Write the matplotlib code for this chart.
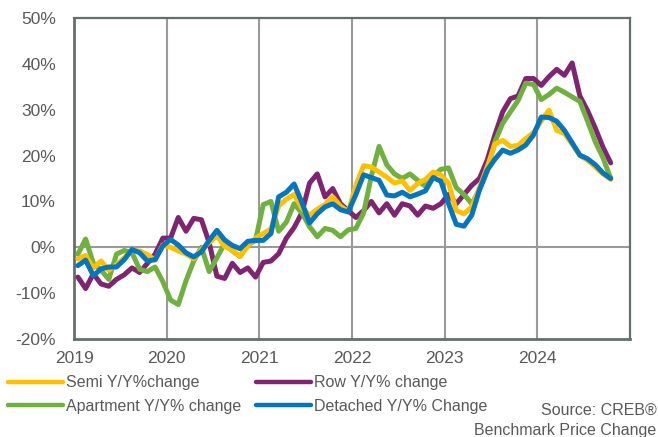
import numpy as np
import matplotlib.pyplot as plt

plt.rcParams['font.family'] = ['Liberation Sans', 'DejaVu Sans']

# monthly Y/Y % change, Jan 2019 .. Oct 2024
semi = [-2.5, -1.8, -4.5, -3.0, -5.0, -3.8, -2.3, -0.7, -0.8, -1.6, -2.8, 0.5,
        0.0, -0.8, -1.5, -2.5, -0.5, 1.0, 2.5, 0.2, -0.7, -2.0, 0.3, 2.0,
        3.0, 4.0, 9.0, 10.5, 11.5, 8.5, 7.0, 8.3, 9.3, 11.0, 9.0, 7.8,
        13.5, 17.8, 17.5, 16.4, 15.3, 14.0, 14.5, 12.4, 13.9, 14.8, 16.4, 15.8,
        14.0, 8.0, 7.3, 8.8, 13.0, 17.5, 22.5, 23.3, 22.0, 22.2, 23.7, 25.0,
        27.5, 29.9, 25.5, 24.8, 22.5, 20.0, 19.0, 17.5, 16.0, 14.8]

row = [-6.5, -9.0, -5.8, -8.0, -8.5, -7.0, -6.0, -4.5, -5.5, -3.5, -1.5, 2.0,
       2.0, 6.5, 3.5, 6.3, 6.0, 1.0, -6.3, -6.8, -3.5, -5.5, -4.5, -6.5,
       -3.3, -3.0, -1.4, 2.0, 4.3, 7.5, 14.0, 16.0, 11.0, 12.8, 9.5, 8.0,
       6.5, 8.0, 10.0, 7.5, 9.5, 7.0, 9.5, 9.0, 7.0, 9.0, 8.5, 9.5,
       11.5, 9.5, 11.5, 13.5, 15.0, 19.0, 24.5, 29.5, 32.4, 33.0, 36.8, 36.8,
       35.3, 37.2, 38.8, 37.5, 40.2, 33.0, 29.8, 26.0, 21.8, 18.4]

apartment = [-1.5, 1.8, -3.5, -5.0, -7.0, -1.5, -0.7, -1.2, -4.8, -5.3, -4.3, -7.5,
             -11.5, -12.5, -7.3, -3.0, 0.0, -5.3, -2.3, 0.8, -0.8, -2.0, 0.5, 1.5,
             9.3, 10.0, 3.5, 5.5, 9.5, 7.5, 4.5, 2.3, 4.1, 3.7, 2.3, 3.8,
             4.1, 7.5, 15.5, 22.0, 18.0, 16.0, 15.0, 16.0, 14.6, 13.3, 15.5, 17.0,
             17.3, 13.0, 11.5, 9.5, 12.5, 16.5, 23.0, 27.0, 29.5, 32.0, 35.8, 35.5,
             32.2, 33.3, 34.7, 33.8, 32.8, 31.8, 27.5, 23.0, 19.5, 15.0]

detached = [-4.0, -2.8, -6.2, -4.7, -4.3, -4.3, -2.7, -0.5, -1.2, -3.0, -2.7, 0.3,
            1.7, 0.5, -1.2, -2.1, -1.0, 1.5, 3.7, 1.6, 0.4, -0.3, 1.3, 1.5,
            1.5, 3.0, 11.0, 12.0, 13.8, 9.8, 5.3, 7.3, 8.8, 9.5, 8.2, 7.7,
            11.5, 15.8, 15.2, 14.6, 11.4, 11.2, 12.0, 11.0, 11.6, 12.3, 15.2, 14.4,
            9.5, 5.0, 4.6, 7.0, 12.5, 16.8, 19.2, 21.2, 20.5, 21.2, 22.3, 24.5,
            28.4, 28.3, 27.5, 25.5, 22.8, 20.1, 19.3, 18.0, 16.2, 15.0]

years = [2019, 2020, 2021, 2022, 2023, 2024]
y_ticks = [-20, -10, 0, 10, 20, 30, 40, 50]

series = {
    "Semi Y/Y%change": (semi, "#FFC000"),
    "Row Y/Y% change": (row, "#7E2470"),
    "Apartment Y/Y% change": (apartment, "#70B03F"),
    "Detached Y/Y% Change": (detached, "#0575BE"),
}

# points sit in the middle of each month
x = 2019 + (np.arange(len(semi)) + 0.5) / 12

fig = plt.figure(figsize=(6.58, 4.37), dpi=100)
ax = fig.add_axes([0.1125, 0.2243, 0.845, 0.7345])

# drawing order: purple first, then green, yellow, blue on top
draw_order = ["Row Y/Y% change", "Apartment Y/Y% change",
              "Semi Y/Y%change", "Detached Y/Y% Change"]
lines = {}
for z, name in enumerate(draw_order):
    vals, col = series[name]
    lines[name], = ax.plot(x, vals, color=col, lw=3.6, solid_joinstyle='round',
                           solid_capstyle='round', zorder=3 + z)

ax.set_xlim(2019, 2025)
ax.set_ylim(-20, 50)

for yr in years[1:]:
    ax.axvline(yr, color='#9a9a9a', lw=1.5, zorder=1)
ax.axhline(0, color='#9a9a9a', lw=1.5, zorder=1)

ax.set_yticks(y_ticks)
ax.set_yticklabels([f"{v}%" for v in y_ticks])
ax.set_xticks(years)
ax.set_xticklabels([str(v) for v in years])
ax.tick_params(length=0, labelsize=12.5, labelcolor='#595959')
ax.tick_params(axis='y', pad=13)
ax.tick_params(axis='x', pad=9)

for side in ['left', 'bottom', 'top', 'right']:
    ax.spines[side].set_color('#636f6b')
ax.spines['left'].set_linewidth(2)
ax.spines['bottom'].set_linewidth(2)
ax.spines['top'].set_linewidth(1.6)
ax.spines['right'].set_linewidth(1.6)

# legend fills column by column: Semi / Apartment, then Row / Detached
leg_order = ["Semi Y/Y%change", "Apartment Y/Y% change",
             "Row Y/Y% change", "Detached Y/Y% Change"]
leg = fig.legend([lines[k] for k in leg_order], leg_order, ncol=2,
                 loc='upper left', bbox_to_anchor=(0.012, 0.141),
                 frameon=False, fontsize=11.5, handlelength=3.45,
                 handletextpad=0.2, columnspacing=0.9, labelspacing=0.52,
                 borderaxespad=0, borderpad=0)
for t in leg.get_texts():
    t.set_color('#595959')
for h in leg.get_lines():
    h.set_linewidth(3.2)

fig.text(0.998, 0.062, "Source: CREB\u00ae", ha='right', va='center',
         fontsize=11.5, color='#595959')
fig.text(0.998, 0.016, "Benchmark Price Change", ha='right', va='center',
         fontsize=11.5, color='#595959')

fig.savefig("out.png", dpi=100)
